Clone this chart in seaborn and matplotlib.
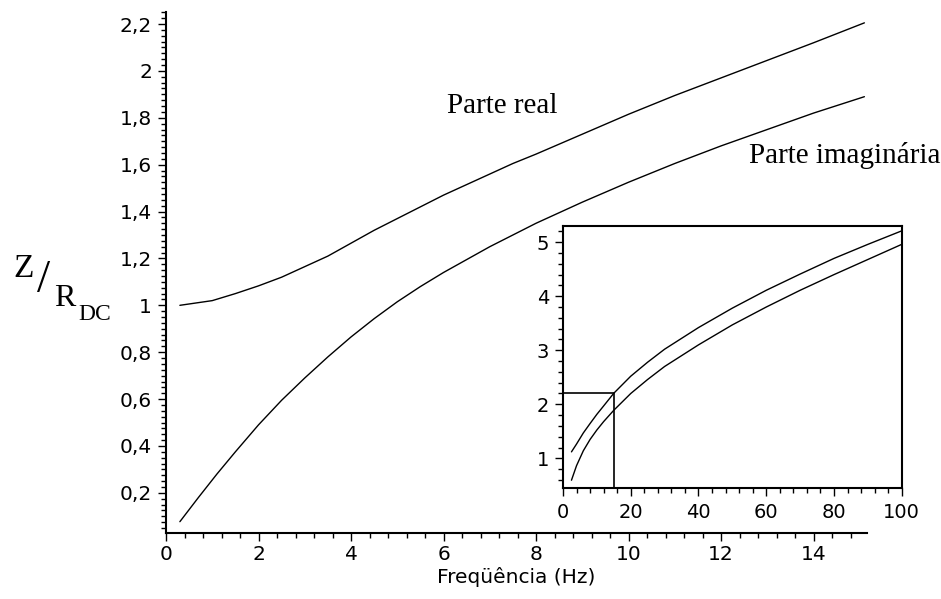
import seaborn as sns

from matplotlib import pyplot as plt
from matplotlib.ticker import MultipleLocator

# main plot, 0..15 Hz
freq_real = [0.3, 1.0, 1.5, 2.0, 2.5, 3.0, 3.5, 4.0, 4.5, 5.0, 5.5, 6.0, 6.5, 7.0, 7.5, 8.0,
             9.0, 10.0, 11.0, 12.0, 13.0, 14.0, 15.1]
real_part = [1.00, 1.02, 1.05, 1.083, 1.12, 1.165, 1.21, 1.265, 1.32, 1.37, 1.42, 1.47, 1.515, 1.56, 1.605, 1.645,
             1.73, 1.815, 1.895, 1.97, 2.045, 2.12, 2.205]

freq_imag = [0.3, 0.7, 1.1, 1.5, 2.0, 2.5, 3.0, 3.5, 4.0, 4.5, 5.0, 5.5, 6.0, 6.5, 7.0, 7.5, 8.0,
             9.0, 10.0, 11.0, 12.0, 13.0, 14.0, 15.1]
imag_part = [0.077, 0.18, 0.28, 0.375, 0.49, 0.595, 0.69, 0.78, 0.865, 0.943, 1.015, 1.08, 1.14, 1.195, 1.25, 1.30, 1.35,
             1.44, 1.525, 1.605, 1.68, 1.75, 1.82, 1.89]

# inset, 0..100 Hz
inset_freq = [2.5, 4, 6, 8, 10, 12, 15, 20, 25, 30, 40, 50, 60, 70, 80, 90, 100]
inset_real = [1.12, 1.265, 1.47, 1.645, 1.815, 1.97, 2.205, 2.52, 2.78, 3.02, 3.42, 3.78, 4.11, 4.41, 4.70, 4.96, 5.21]
inset_imag = [0.595, 0.865, 1.14, 1.35, 1.525, 1.68, 1.89, 2.20, 2.46, 2.70, 3.10, 3.47, 3.80, 4.11, 4.40, 4.68, 4.96]

# corner of the main plot range drawn in the inset
zoom_freq = 15
zoom_value = 2.2

main_xticks = [0, 2, 4, 6, 8, 10, 12, 14]
main_yticks = [0.2, 0.4, 0.6, 0.8, 1, 1.2, 1.4, 1.6, 1.8, 2, 2.2]
inset_xticks = [0, 20, 40, 60, 80, 100]
inset_yticks = [1, 2, 3, 4, 5]


def comma(v):
    return f"{v:g}".replace(".", ",")


sns.set_theme(style="ticks")
plt.rcParams['font.family'] = ['DejaVu Sans']
plt.rcParams['text.color'] = 'black'
SERIF = ['Liberation Serif', 'DejaVu Serif']

W, H = 941, 599
fig = plt.figure(figsize=(W / 100, H / 100), dpi=100)

''' main axes '''
ax = fig.add_axes([166 / W, 1 - 532.7 / H, 700.7 / W, 520.4 / H])
sns.lineplot(x=freq_real, y=real_part, ax=ax, color='black', lw=1, estimator=None, sort=False)
sns.lineplot(x=freq_imag, y=imag_part, ax=ax, color='black', lw=1, estimator=None, sort=False)
ax.set_xlim(0, 15.15)
ax.set_ylim(0.03, 2.25)
ax.set_xticks(main_xticks, [comma(v) for v in main_xticks])
ax.set_yticks(main_yticks, [comma(v) for v in main_yticks])
ax.xaxis.set_minor_locator(MultipleLocator(0.4))
ax.yaxis.set_minor_locator(MultipleLocator(0.025))
ax.tick_params(which='major', direction='out', length=6, width=1, labelsize=14.5, colors='black')
ax.tick_params(axis='x', which='major', pad=3)
ax.tick_params(axis='y', which='major', pad=4)
ax.tick_params(which='minor', direction='out', length=3.5, width=1, colors='black')
for side in ['top', 'right']:
    ax.spines[side].set_visible(False)
for side in ['left', 'bottom']:
    ax.spines[side].set_linewidth(1.5)
    ax.spines[side].set_color('black')
ax.set_xlabel("Freqüência (Hz)", fontsize=14.5, labelpad=2, color='black')
ax.set_ylabel("")

ax.text(6.08, 1.85, "Parte real", family=SERIF, fontsize=21, va='center', ha='left')
ax.text(12.6, 1.64, "Parte imaginária", family=SERIF, fontsize=21, va='center', ha='left')

# Z / R_DC label
fig.text(24 / W, 1 - 269 / H, "Z", family=SERIF, fontsize=24, ha='center', va='center')
fig.text(44 / W, 1 - 281 / H, "/", family=SERIF, fontsize=34, ha='center', va='center')
fig.text(65 / W, 1 - 298 / H, "R", family=SERIF, fontsize=23, ha='center', va='center')
fig.text(95 / W, 1 - 314 / H, "DC", family=SERIF, fontsize=17, ha='center', va='center')

''' inset axes '''
axi = fig.add_axes([563 / W, 1 - 488 / H, 338.7 / W, 262 / H])
sns.lineplot(x=inset_freq, y=inset_real, ax=axi, color='black', lw=1, estimator=None, sort=False)
sns.lineplot(x=inset_freq, y=inset_imag, ax=axi, color='black', lw=1, estimator=None, sort=False)
axi.set_xlim(0, 100)
axi.set_ylim(0.451, 5.3)
axi.hlines(zoom_value, 0, zoom_freq, color='black', lw=1.2)
axi.vlines(zoom_freq, axi.get_ylim()[0], zoom_value, color='black', lw=1.2)
axi.set_xticks(inset_xticks, [comma(v) for v in inset_xticks])
axi.set_yticks(inset_yticks, [comma(v) for v in inset_yticks])
axi.xaxis.set_minor_locator(MultipleLocator(4))
axi.yaxis.set_minor_locator(MultipleLocator(0.2))
axi.tick_params(which='major', direction='out', length=6, width=1, labelsize=14, colors='black')
axi.tick_params(axis='x', which='major', pad=5)
axi.tick_params(axis='y', which='major', pad=4)
axi.tick_params(which='minor', direction='out', length=3.5, width=1, colors='black')
for side in axi.spines:
    axi.spines[side].set_linewidth(1.5)
    axi.spines[side].set_color('black')
axi.set_xlabel("")
axi.set_ylabel("")

fig.savefig("out.png", dpi=100)
